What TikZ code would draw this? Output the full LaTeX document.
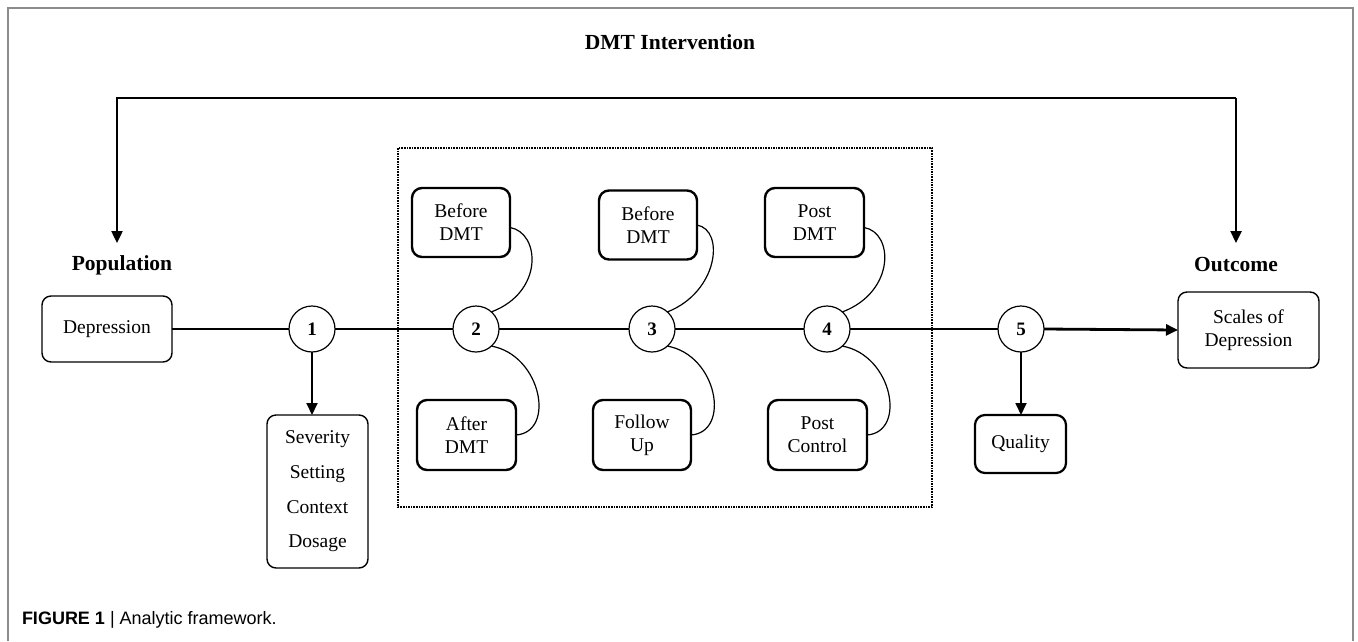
\documentclass[tikz,border=0pt]{standalone}
\usepackage{fontspec}
\setmainfont{Liberation Serif}
\newfontfamily\capfont{Liberation Sans}
\usetikzlibrary{arrows.meta}
\begin{document}
\begin{tikzpicture}[x=1pt,y=-1pt,
  every node/.style={inner sep=0pt,outer sep=0pt},
  txt/.style={font=\fontsize{19.5}{23}\selectfont,align=center},
  thinbox/.style={draw,line width=1.4pt,rounded corners=9pt,txt},
  thickbox/.style={draw,line width=2.4pt,rounded corners=10pt,txt},
  num/.style={draw,circle,line width=1.2pt,minimum size=46pt,font=\fontsize{19}{20}\selectfont\bfseries},
  lbl/.style={font=\fontsize{21.5}{24}\selectfont\bfseries},
  mainline/.style={line width=1.8pt},
  arc/.style={line width=1.2pt},
  arr/.style={-{Triangle[length=12pt,width=11pt]}},
]
\useasboundingbox (0,0) rectangle (1358,641);
% frame
\draw[line width=1.2pt,color=black!45] (8,641) -- (8,8) -- (1353,8) -- (1353,641);

% title
\node[lbl] (title) at (670,42) {DMT Intervention};
\node[lbl] (pop) at (122,265) {Population};
\node[lbl] (out) at (1236,265) {Outcome};

% dotted box
\draw[line width=1.6pt,densely dotted] (398,148) rectangle (932,507);

% boxes
\node[thinbox,minimum width=130pt,minimum height=66pt] (dep) at (107,329) {\raisebox{4pt}{Depression}};
\node[thinbox,minimum width=101pt,minimum height=153pt,font=\fontsize{19.5}{34.7}\selectfont] (sev) at (317.5,491.5) {Severity\\Setting\\Context\\Dosage};
\node[thinbox,minimum width=141pt,minimum height=76pt] (sc) at (1248.5,330) {Scales of\\Depression};

\node[thickbox,minimum width=98pt,minimum height=69pt] (b1) at (461,222.5) {Before\\DMT};
\node[thickbox,minimum width=98pt,minimum height=69pt] (b2) at (648,225) {Before\\DMT};
\node[thickbox,minimum width=99pt,minimum height=69pt] (pd) at (814.5,222.5) {Post\\DMT};
\node[thickbox,minimum width=99pt,minimum height=70pt] (a1) at (466.5,435) {After\\DMT};
\node[thickbox,minimum width=98pt,minimum height=70pt] (fu) at (642,435) {Follow\\Up};
\node[thickbox,minimum width=99pt,minimum height=70pt] (pc) at (817.5,435) {Post\\Control};
\node[thickbox,minimum width=91pt,minimum height=58pt,line width=2.2pt] (q) at (1020.5,444) {\raisebox{5pt}{Quality}};

% circles
\node[num] (c1) at (312,329) {1};
\node[num] (c2) at (476,329) {2};
\node[num] (c3) at (652,329) {3};
\node[num] (c4) at (827,329) {4};
\node[num] (c5) at (1021,329) {5};

% main line
\draw[mainline] (dep.east) -- (c1.west);
\draw[mainline] (c1.east) -- (c2.west);
\draw[mainline] (c2.east) -- (c3.west);
\draw[mainline] (c3.east) -- (c4.west);
\draw[mainline] (c4.east) -- (c5.west);
\draw[line width=2.8pt,arr] (c5.east) -- (sc.west);

% down arrows
\draw[line width=1.8pt,arr] (c1.south) -- (c1.south |- sev.north);
\draw[line width=1.8pt,arr] (c5.south) -- (c5.south |- q.north);

% top bracket
\coordinate (pl) at (117,243);
\coordinate (ol) at (1236,243);
\draw[line width=2.4pt,arr] (1236,98) -- (117,98) -- (pl);
\draw[line width=2.4pt,arr] (1236,98) -- (ol);

% arcs
\draw[arc] ([yshift=-5pt]b1.east) .. controls +(30,5) and +(53,-20) .. (c2.48);
\draw[arc] (c2.-48) .. controls +(50,9) and +(40,-3) .. (a1.east);
\draw[arc] (b2.east) .. controls +(28,5) and +(51,-20) .. (c3.48);
\draw[arc] (c3.-48) .. controls +(50,9) and +(40,-3) .. (fu.east);
\draw[arc] ([yshift=-5pt]pd.east) .. controls +(30,5) and +(53,-20) .. (c4.48);
\draw[arc] (c4.-48) .. controls +(50,9) and +(40,-3) .. (pc.east);

% caption
\node[anchor=west,font=\capfont\fontsize{18}{20}\selectfont] (cap) at (22,620) {\textbf{FIGURE 1} | Analytic framework.};
\end{tikzpicture}
\end{document}
